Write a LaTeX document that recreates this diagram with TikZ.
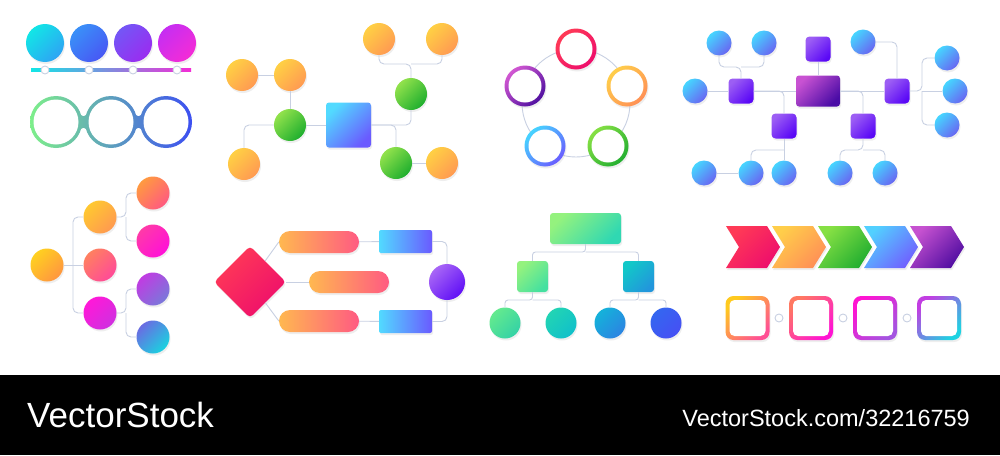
\documentclass[tikz,border=0pt]{standalone}
\usepackage{fontspec}
\setmainfont{Liberation Sans}
\usepackage{tikz}
\usetikzlibrary{shapes.geometric,shadows}

\definecolor{trait}{HTML}{C8D0E2}
\definecolor{tlAa}{HTML}{12E6E6}\definecolor{tlAb}{HTML}{2EA4F4}
\definecolor{tlBa}{HTML}{3A90F8}\definecolor{tlBb}{HTML}{4858F4}
\definecolor{tlCa}{HTML}{7456F6}\definecolor{tlCb}{HTML}{9A2CF0}
\definecolor{tlDa}{HTML}{C62EF2}\definecolor{tlDb}{HTML}{F42CD6}
\definecolor{chG}{HTML}{7EF08A}\definecolor{chT}{HTML}{26C8B6}\definecolor{chB}{HTML}{3C4EF2}
\definecolor{orA}{HTML}{FFD044}\definecolor{orB}{HTML}{FF9A52}
\definecolor{vrA}{HTML}{92E24C}\definecolor{vrB}{HTML}{1EAE2E}
\definecolor{blA}{HTML}{52DAFF}\definecolor{blB}{HTML}{6A5AFF}
\definecolor{rgA}{HTML}{FF3A56}\definecolor{rgB}{HTML}{EE0E6C}
\definecolor{jnA}{HTML}{FFCE4A}\definecolor{jnB}{HTML}{FF9056}
\definecolor{vtA}{HTML}{86E044}\definecolor{vtB}{HTML}{22AE30}
\definecolor{bcA}{HTML}{46D4FF}\definecolor{bcB}{HTML}{6A5CFF}
\definecolor{vlA}{HTML}{D258D2}\definecolor{vlB}{HTML}{5010A0}
\definecolor{ciA}{HTML}{46D6FF}\definecolor{ciB}{HTML}{6866F2}
\definecolor{sqA}{HTML}{9C5EF4}\definecolor{sqB}{HTML}{5A08F6}
\definecolor{rcA}{HTML}{C852D2}\definecolor{rcB}{HTML}{4A0CA6}
\definecolor{plA}{HTML}{FFB850}\definecolor{plB}{HTML}{FF5A82}
\definecolor{mvA}{HTML}{A866F6}\definecolor{mvB}{HTML}{6010F6}
% left tree
\definecolor{arA}{HTML}{FFD020}\definecolor{arB}{HTML}{FF9640}
\definecolor{brA}{HTML}{FFC830}\definecolor{brB}{HTML}{FF9A50}
\definecolor{crA}{HTML}{FF8060}\definecolor{crB}{HTML}{FF4A98}
\definecolor{drA}{HTML}{FF18D8}\definecolor{drB}{HTML}{D030E0}
\definecolor{erA}{HTML}{FF9A40}\definecolor{erB}{HTML}{FF5A80}
\definecolor{frA}{HTML}{FF3AA8}\definecolor{frB}{HTML}{FF10D8}
\definecolor{grA}{HTML}{C03CE2}\definecolor{grB}{HTML}{7A78DA}
\definecolor{hrA}{HTML}{6A6CE2}\definecolor{hrB}{HTML}{1AD2E0}
% org chart
\definecolor{ogA}{HTML}{94F27E}\definecolor{ogB}{HTML}{30D8B2}
\definecolor{ohA}{HTML}{94F27E}\definecolor{ohB}{HTML}{44E0A0}
\definecolor{oiA}{HTML}{12C8C8}\definecolor{oiB}{HTML}{2296DC}
\definecolor{odA}{HTML}{64EA8E}\definecolor{odB}{HTML}{34D2A6}
\definecolor{oeA}{HTML}{22D4B4}\definecolor{oeB}{HTML}{10C0CA}
\definecolor{ofA}{HTML}{14B2DA}\definecolor{ofB}{HTML}{2C84E2}
\definecolor{okA}{HTML}{3466F0}\definecolor{okB}{HTML}{4650F4}
% chevrons and frames
\definecolor{cvA}{HTML}{52D0FF}\definecolor{cvB}{HTML}{7060FF}
\definecolor{cwA}{HTML}{C652D0}\definecolor{cwB}{HTML}{520EA2}
\definecolor{faA}{HTML}{FFCA1E}\definecolor{faB}{HTML}{FF5094}
\definecolor{fbA}{HTML}{FF7862}\definecolor{fbB}{HTML}{FF14D2}
\definecolor{fcA}{HTML}{FF14D2}\definecolor{fcB}{HTML}{A454E0}
\definecolor{fdA}{HTML}{C23EE2}\definecolor{fdB}{HTML}{1ED2E2}

\tikzstyle{ombre} = [drop shadow={opacity=0.13, shadow xshift=1pt, shadow yshift=-2pt}]
\tikzstyle{lien} = [draw=trait, line width=0.9pt, rounded corners=5pt]
\tikzstyle{pastille} = [circle, draw=trait, fill=white, line width=0.9pt, inner sep=0pt, minimum size=8pt]
\tikzstyle{chaine} = [left color=chG, middle color=chT, right color=chB]
\tikzset{
  degrade/.style 2 args={top color=#1, bottom color=#2, shading angle=45},
  rond/.style={circle, inner sep=0pt, minimum size=#1, ombre},
  carre/.style={rectangle, rounded corners=3pt, inner sep=0pt, minimum size=#1, ombre},
  anneau/.style={circle, inner sep=0pt, minimum size=41pt, ombre,
    path picture={\fill[white] (path picture bounding box.center) circle (16.5pt);}},
  cadre/.style={rectangle, rounded corners=8pt, inner sep=0pt, minimum size=44pt, ombre,
    path picture={\fill[white, rounded corners=5pt] ([shift={(4pt,4pt)}]path picture bounding box.south west) rectangle ([shift={(-4pt,-4pt)}]path picture bounding box.north east);}},
}

\begin{document}
\begin{tikzpicture}[x=1pt, y=-1pt]
    \useasboundingbox (0,0) rectangle (1000,455);
    \fill[white] (0,0) rectangle (1000,375);

    % timeline
    \node (n1) [rond=38pt, degrade={tlAa}{tlAb}] at (45,43) {};
    \node (n2) [rond=38pt, degrade={tlBa}{tlBb}] at (89,43) {};
    \node (n3) [rond=38pt, degrade={tlCa}{tlCb}] at (133,43) {};
    \node (n4) [rond=38pt, degrade={tlDa}{tlDb}] at (177,43) {};
    \shade[left color=tlAa, middle color=tlCa, right color=tlDb] (31,68.5) rectangle (191,71.5);
    \node (t1) [pastille] at (45,70) {};
    \node (t2) [pastille] at (89,70) {};
    \node (t3) [pastille] at (133,70) {};
    \node (t4) [pastille] at (177,70) {};

    % ring chain
    \begin{scope}\clip (56,122) circle (26pt);
        \shade[chaine] (29,95) rectangle (193,149);\end{scope}
    \begin{scope}\clip (111,122) circle (26pt);
        \shade[chaine] (29,95) rectangle (193,149);\end{scope}
    \begin{scope}\clip (166,122) circle (26pt);
        \shade[chaine] (29,95) rectangle (193,149);\end{scope}
    \begin{scope}\clip (78,111) .. controls (82,118) and (85,118) .. (89,111) -- (89,133) .. controls (85,126) and (82,126) .. (78,133) -- cycle;
        \shade[chaine] (29,95) rectangle (193,149);\end{scope}
    \begin{scope}\clip (133,111) .. controls (137,118) and (140,118) .. (144,111) -- (144,133) .. controls (140,126) and (137,126) .. (133,133) -- cycle;
        \shade[chaine] (29,95) rectangle (193,149);\end{scope}
    \fill[white] (56,122) circle (22.5pt) (111,122) circle (22.5pt) (166,122) circle (22.5pt);

    % mind map
    \node (o1) [rond=32pt, degrade={orA}{orB}] at (242,75) {};
    \node (o2) [rond=32pt, degrade={orA}{orB}] at (290,75) {};
    \node (o3) [rond=32pt, degrade={orA}{orB}] at (244,164) {};
    \node (o4) [rond=32pt, degrade={orA}{orB}] at (379,39) {};
    \node (o5) [rond=32pt, degrade={orA}{orB}] at (442,39) {};
    \node (o6) [rond=32pt, degrade={orA}{orB}] at (442,163) {};
    \node (v1) [rond=32pt, degrade={vrA}{vrB}] at (290,125) {};
    \node (v2) [rond=32pt, degrade={vrA}{vrB}] at (411,94) {};
    \node (v3) [rond=32pt, degrade={vrA}{vrB}] at (396,163) {};
    \node (cb) [carre=45pt, degrade={blA}{blB}] at (348.5,125) {};
    \coordinate (j1) at (411,64);

    \draw[lien] (o1) -- (o2);
    \draw[lien] (o2) -- (v1);
    \draw[lien] (v1) -- (cb);
    \draw[lien] (v1.west) -| (o3.north);
    \draw[lien] (o4.south) |- (j1) -- (v2.north);
    \draw[lien] (o5.south) |- (j1);
    \draw[lien] (cb.east) -| (v2.south);
    \draw[lien] (cb.east) -| (v3.north);
    \draw[lien] (v3) -- (o6);

    % cycle
    \coordinate (c0) at (576,103);
    \draw[trait, line width=0.9pt] (c0) circle (54pt);
    \node (a1) [anneau, degrade={rgA}{rgB}] at (576,49) {};
    \node (a2) [anneau, degrade={jnA}{jnB}] at (627,86) {};
    \node (a3) [anneau, degrade={vtA}{vtB}] at (608,146) {};
    \node (a4) [anneau, degrade={bcA}{bcB}] at (545,146) {};
    \node (a5) [anneau, degrade={vlA}{vlB}] at (525,86) {};

    % purple tree
    \node (cr) [carre=31pt, minimum width=44pt, degrade={rcA}{rcB}] at (818,91) {};
    \node (s0) [carre=25pt, rounded corners=4pt, degrade={sqA}{sqB}] at (818,49) {};
    \node (s1) [carre=25pt, rounded corners=4pt, degrade={sqA}{sqB}] at (741,91) {};
    \node (s2) [carre=25pt, rounded corners=4pt, degrade={sqA}{sqB}] at (897,91) {};
    \node (s3) [carre=25pt, rounded corners=4pt, degrade={sqA}{sqB}] at (784,126) {};
    \node (s4) [carre=25pt, rounded corners=4pt, degrade={sqA}{sqB}] at (863,126) {};
    \node (c1) [rond=25pt, degrade={ciA}{ciB}] at (719,43) {};
    \node (c2) [rond=25pt, degrade={ciA}{ciB}] at (764,43) {};
    \node (c3) [rond=25pt, degrade={ciA}{ciB}] at (695,91) {};
    \node (c4) [rond=25pt, degrade={ciA}{ciB}] at (863,42) {};
    \node (c5) [rond=25pt, degrade={ciA}{ciB}] at (947,58) {};
    \node (c6) [rond=25pt, degrade={ciA}{ciB}] at (955,91) {};
    \node (c7) [rond=25pt, degrade={ciA}{ciB}] at (947,125) {};
    \node (c8) [rond=25pt, degrade={ciA}{ciB}] at (704,173) {};
    \node (c9) [rond=25pt, degrade={ciA}{ciB}] at (751,173) {};
    \node (c10) [rond=25pt, degrade={ciA}{ciB}] at (784,173) {};
    \node (c11) [rond=25pt, degrade={ciA}{ciB}] at (840,173) {};
    \node (c12) [rond=25pt, degrade={ciA}{ciB}] at (885,173) {};
    \coordinate (j2) at (741,67);
    \coordinate (j3) at (922,91);
    \coordinate (j4) at (784,150);
    \coordinate (j5) at (863,150);

    \draw[lien] (c1.south) |- (j2) -- (s1.north);
    \draw[lien] (c2.south) |- (j2);
    \draw[lien] (c3) -- (s1);
    \draw[lien] (s1) -- (cr);
    \draw[lien] (s0) -- (cr);
    \draw[lien] (cr) -- (s2);
    \draw[lien] (c4.east) -| (s2.north);
    \draw[lien] (s2.east) -- (j3) |- (c5.west);
    \draw[lien] (j3) -- (c6);
    \draw[lien] (j3) |- (c7.west);
    \draw[lien] (s1.east) -| (s3.north);
    \draw[lien] (cr.east) -| (s4.north);
    \draw[lien] (s3) -- (c10);
    \draw[lien] (j4) -| (c9.north);
    \draw[lien] (c8) -- (c9);
    \draw[lien] (s4.south) -- (j5) -| (c11.north);
    \draw[lien] (j5) -| (c12.north);

    % left tree
    \node (r0) [rond=33pt, degrade={arA}{arB}] at (47,265) {};
    \node (b1) [rond=33pt, degrade={brA}{brB}] at (100,217) {};
    \node (b2) [rond=33pt, degrade={crA}{crB}] at (100,265) {};
    \node (b3) [rond=33pt, degrade={drA}{drB}] at (100,313) {};
    \node (f1) [rond=33pt, degrade={erA}{erB}] at (153,193) {};
    \node (f2) [rond=33pt, degrade={frA}{frB}] at (153,241) {};
    \node (f3) [rond=33pt, degrade={grA}{grB}] at (153,289) {};
    \node (f4) [rond=33pt, degrade={hrA}{hrB}] at (153,337) {};
    \coordinate (k1) at (73,265);
    \coordinate (k2) at (126,217);
    \coordinate (k3) at (126,313);

    \draw[lien] (r0) -- (b2);
    \draw[lien] (k1) |- (b1.west);
    \draw[lien] (k1) |- (b3.west);
    \draw[lien] (b1.east) -- (k2) |- (f1.west);
    \draw[lien] (k2) |- (f2.west);
    \draw[lien] (b3.east) -- (k3) |- (f3.west);
    \draw[lien] (k3) |- (f4.west);

    % flowchart
    \node (los) [diamond, inner sep=0pt, minimum size=72pt, rounded corners=4pt, ombre, degrade={rgA}{rgB}] at (250,282) {};
    \node (p1) [rectangle, rounded corners=11pt, minimum width=80pt, minimum height=22pt, ombre, left color=plA, right color=plB] at (319,242) {};
    \node (p2) [rectangle, rounded corners=11pt, minimum width=80pt, minimum height=22pt, ombre, left color=plA, right color=plB] at (349,282) {};
    \node (p3) [rectangle, rounded corners=11pt, minimum width=80pt, minimum height=22pt, ombre, left color=plA, right color=plB] at (319,321) {};
    \node (q1) [rectangle, rounded corners=2pt, minimum width=53pt, minimum height=23pt, ombre, left color=blA, right color=blB] at (405.5,241.5) {};
    \node (q2) [rectangle, rounded corners=2pt, minimum width=53pt, minimum height=23pt, ombre, left color=blA, right color=blB] at (405.5,321.5) {};
    \node (m) [rond=36pt, degrade={mvA}{mvB}] at (447,282) {};

    \draw[lien] (los) -- (p1.west);
    \draw[lien] (los) -- (p2);
    \draw[lien] (los) -- (p3.west);
    \draw[lien] (p1) -- (q1);
    \draw[lien] (p3) -- (q2);
    \draw[lien] (q1.east) -| (m.north);
    \draw[lien] (q2.east) -| (m.south);

    % org chart
    \node (g0) [carre=31pt, minimum width=71pt, degrade={ogA}{ogB}] at (585.5,228.5) {};
    \node (g1) [carre=31pt, degrade={ohA}{ohB}] at (532.5,276.5) {};
    \node (g2) [carre=31pt, degrade={oiA}{oiB}] at (638.5,276.5) {};
    \node (d1) [rond=31pt, degrade={odA}{odB}] at (505,323) {};
    \node (d2) [rond=31pt, degrade={oeA}{oeB}] at (561,323) {};
    \node (d3) [rond=31pt, degrade={ofA}{ofB}] at (610,323) {};
    \node (d4) [rond=31pt, degrade={okA}{okB}] at (666,323) {};
    \coordinate (j6) at (585.5,252);
    \coordinate (j7) at (532.5,300);
    \coordinate (j8) at (638.5,300);

    \draw[lien, rounded corners=3pt] (g0.south) -- (j6) -| (g1.north);
    \draw[lien, rounded corners=3pt] (j6) -| (g2.north);
    \draw[lien, rounded corners=3pt] (g1.south) -- (j7) -| (d1.north);
    \draw[lien, rounded corners=3pt] (j7) -| (d2.north);
    \draw[lien, rounded corners=3pt] (g2.south) -- (j8) -| (d3.north);
    \draw[lien, rounded corners=3pt] (j8) -| (d4.north);

    % chevrons
    \foreach \x/\ca/\cb in {726/rgA/rgB, 772/jnA/jnB, 818/vtA/vtB, 864/cvA/cvB, 910/cwA/cwB}
        \shade[ombre, degrade={\ca}{\cb}] (\x,226) -- ++(41,0) -- ++(13,21) -- ++(-13,21) -- ++(-41,0) -- ++(13,-21) -- cycle;

    % frames
    \node (e1) [cadre, degrade={faA}{faB}] at (747.5,318) {};
    \node (e2) [cadre, degrade={fbA}{fbB}] at (811,318) {};
    \node (e3) [cadre, degrade={fcA}{fcB}] at (875,318) {};
    \node (e4) [cadre, degrade={fdA}{fdB}] at (939,318) {};
    \node (h1) [pastille] at (779,318) {};
    \node (h2) [pastille] at (843,318) {};
    \node (h3) [pastille] at (907,318) {};

    % bar
    \fill[black] (0,375) rectangle (1000,455);
    \node (marque) [anchor=base west, inner sep=0pt, text=white, font=\fontsize{35}{40}\selectfont] at (27,427) {VectorStock};
    \node (adresse) [anchor=base east, inner sep=0pt, text=white, font=\fontsize{23.5}{28}\selectfont] at (970,426) {VectorStock.com/32216759};
\end{tikzpicture}
\end{document}
